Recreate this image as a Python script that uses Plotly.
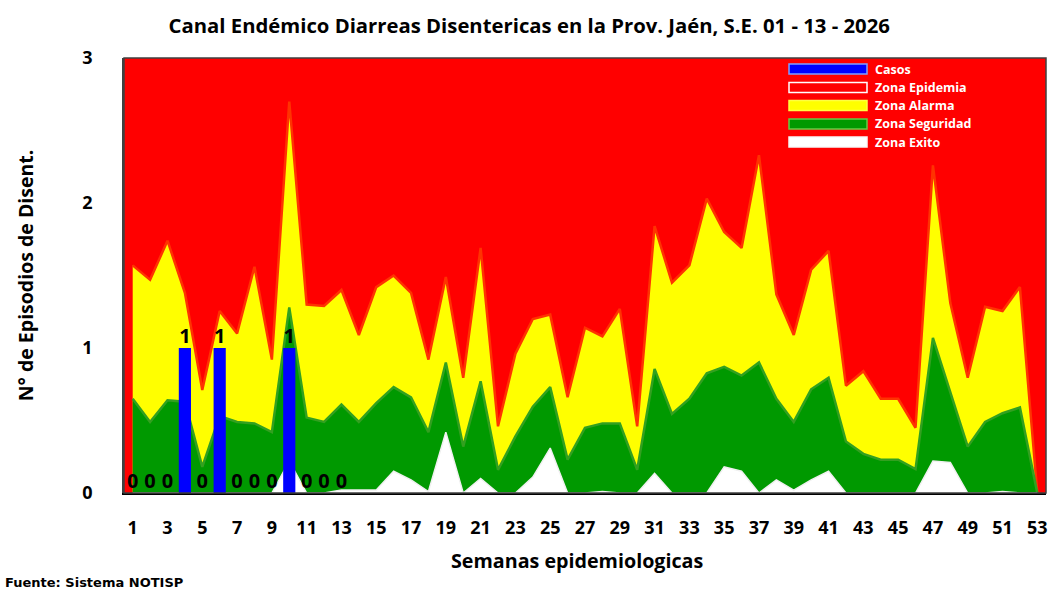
import plotly.graph_objects as go

semanas = list(range(1, 54))

casos = [0, 0, 0, 1, 0, 1, 0, 0, 0, 1, 0, 0, 0]

zona_exito = [0, 0, 0, 0, 0, 0, 0, 0, 0, 0.22, 0, 0, 0.02, 0.02, 0.02, 0.15, 0.09, 0.01, 0.42,
              0, 0.10, 0, 0, 0.11, 0.31, 0, 0, 0.01, 0, 0, 0.135, 0, 0, 0, 0.18, 0.15, 0,
              0.09, 0.02, 0.09, 0.15, 0, 0, 0, 0, 0, 0.22, 0.21, 0, 0, 0.01, 0, 0]

zona_seguridad = [0.65, 0.49, 0.64, 0.63, 0.18, 0.53, 0.49, 0.48, 0.42, 1.28, 0.52, 0.49, 0.61,
                  0.49, 0.62, 0.73, 0.66, 0.42, 0.90, 0.32, 0.77, 0.16, 0.39, 0.595, 0.73, 0.23,
                  0.45, 0.48, 0.48, 0.16, 0.855, 0.545, 0.65, 0.825, 0.87, 0.81, 0.90, 0.65, 0.49,
                  0.715, 0.795, 0.355, 0.27, 0.23, 0.23, 0.165, 1.07, 0.69, 0.32, 0.49, 0.55, 0.59, 0]

zona_alarma = [1.57, 1.47, 1.74, 1.38, 0.71, 1.255, 1.10, 1.56, 0.92, 2.70, 1.30, 1.29, 1.40,
               1.09, 1.42, 1.50, 1.38, 0.92, 1.49, 0.795, 1.69, 0.46, 0.96, 1.20, 1.23, 0.66,
               1.14, 1.08, 1.27, 0.46, 1.84, 1.45, 1.57, 2.03, 1.80, 1.69, 2.33, 1.37, 1.09,
               1.54, 1.67, 0.74, 0.84, 0.65, 0.65, 0.45, 2.26, 1.31, 0.795, 1.285, 1.255, 1.42, 0]

zona_epidemia = [3] * 53

x_ticks = list(range(1, 54, 2))
y_ticks = [0, 1, 2, 3]

title = "Canal Endémico Diarreas Disentericas en la Prov. Jaén, S.E. 01 - 13 - 2026"
x_title = "Semanas epidemiologicas"
y_title = "N° de Episodios de Disent."
fuente = "Fuente: Sistema NOTISP"
legend_names = ["Casos", "Zona Epidemia", "Zona Alarma", "Zona Seguridad", "Zona Exito"]

FONT = "Open Sans"

fig = go.Figure()

fig.add_trace(go.Scatter(x=semanas, y=zona_epidemia, mode="lines", fill="tozeroy",
                         fillcolor="#FF0000", line=dict(color="#FF0000", width=0),
                         name="Zona Epidemia", showlegend=False, hoverinfo="skip"))
fig.add_trace(go.Scatter(x=semanas, y=zona_alarma, mode="lines", fill="tozeroy",
                         fillcolor="#FFFF00", line=dict(color="#FF3300", width=2.5),
                         name="Zona Alarma", showlegend=False))
fig.add_trace(go.Scatter(x=semanas, y=zona_seguridad, mode="lines", fill="tozeroy",
                         fillcolor="#009900", line=dict(color="#33A020", width=2.5),
                         name="Zona Seguridad", showlegend=False))
fig.add_trace(go.Scatter(x=semanas, y=zona_exito, mode="lines", fill="tozeroy",
                         fillcolor="#FFFFFF", line=dict(color="#F0F0F0", width=1.5),
                         name="Zona Exito", showlegend=False))
fig.add_trace(go.Bar(x=semanas[:len(casos)], y=casos, xaxis="x2", yaxis="y2",
                     marker=dict(color="#0000FF", line=dict(width=0)),
                     width=0.7, name="Casos", showlegend=False))
fig.add_trace(go.Scatter(x=semanas[:len(casos)], y=casos, xaxis="x2", yaxis="y2",
                         mode="text", text=[str(c) for c in casos], textposition="top center",
                         textfont=dict(family=FONT, size=20, color="black", weight="bold"),
                         cliponaxis=False, showlegend=False, hoverinfo="skip"))

fig.update_layout(
    width=1048, height=592,
    margin=dict(l=124, r=2, t=58, b=99, autoexpand=False),
    paper_bgcolor="white",
    plot_bgcolor="#FF0000",
    showlegend=False,
    title=dict(text=title, x=0.505, xanchor="center", y=0.957, yanchor="middle",
               font=dict(family=FONT, size=20.3, color="black", weight="bold")),
    bargap=0.3,
    xaxis2=dict(overlaying="x", range=[0.5, 53.5], visible=False),
    yaxis2=dict(overlaying="y", range=[0, 3], visible=False),
    xaxis=dict(range=[0.5, 53.5], tickvals=x_ticks, ticktext=[str(t) for t in x_ticks],
               showgrid=False, zeroline=False, showline=True, linecolor="black", linewidth=1.5,
               ticks="", ticklabelstandoff=18, automargin=False,
               tickfont=dict(family=FONT, size=18, color="black", weight="bold")),
    yaxis=dict(range=[0, 3], tickvals=y_ticks, showgrid=False, zeroline=False,
               showline=True, linecolor="#404040", linewidth=1.5, ticks="",
               ticklabelstandoff=26, automargin=False,
               tickfont=dict(family=FONT, size=18, color="black", weight="bold"),
               title=dict(text=y_title, standoff=44,
                          font=dict(family=FONT, size=19.5, color="black", weight="bold"))),
)

# frame
fig.add_shape(type="rect", xref="paper", yref="paper", x0=0, x1=1, y0=0, y1=1,
              line=dict(color="#404040", width=1.5), fillcolor="rgba(0,0,0,0)", layer="above")

def px_x(p):
    return (p - 124) / 922

def px_y(p):
    return (493 - p) / 435

fig.add_annotation(text=x_title, xref="paper", yref="paper", x=px_x(577), y=px_y(560),
                   xanchor="center", yanchor="middle", showarrow=False,
                   font=dict(family=FONT, size=19.7, color="black", weight="bold"))

# manual legend
sw_fill = ["#0000FF", "#FF0000", "#FFFF00", "#009900", "#FFFFFF"]
sw_line = ["#7FA0FF", "#FFFFFF", "#FFFF40", "#66CC44", "#F8F8F8"]
rows = [69, 87.5, 105.5, 124, 142]
for name, fc, lc, ry in zip(legend_names, sw_fill, sw_line, rows):
    fig.add_shape(type="rect", xref="paper", yref="paper",
                  x0=px_x(789), x1=px_x(867), y0=px_y(ry + 5), y1=px_y(ry - 5),
                  fillcolor=fc, line=dict(color=lc, width=1.5), layer="above")
    fig.add_annotation(text=name, xref="paper", yref="paper", x=px_x(873), y=px_y(ry),
                       xanchor="left", yanchor="middle", showarrow=False,
                       font=dict(family=FONT, size=12.5, color="white", weight="bold"))

fig.add_annotation(text=fuente, xref="paper", yref="paper",
                   x=px_x(3), y=px_y(582.5), xanchor="left", yanchor="middle", showarrow=False,
                   font=dict(family="DejaVu Sans", size=13, color="black", weight="bold"))

fig.write_html("out.html", config={"displayModeBar": False},
               post_script="document.body.style.margin='0';document.body.style.overflow='hidden';")
